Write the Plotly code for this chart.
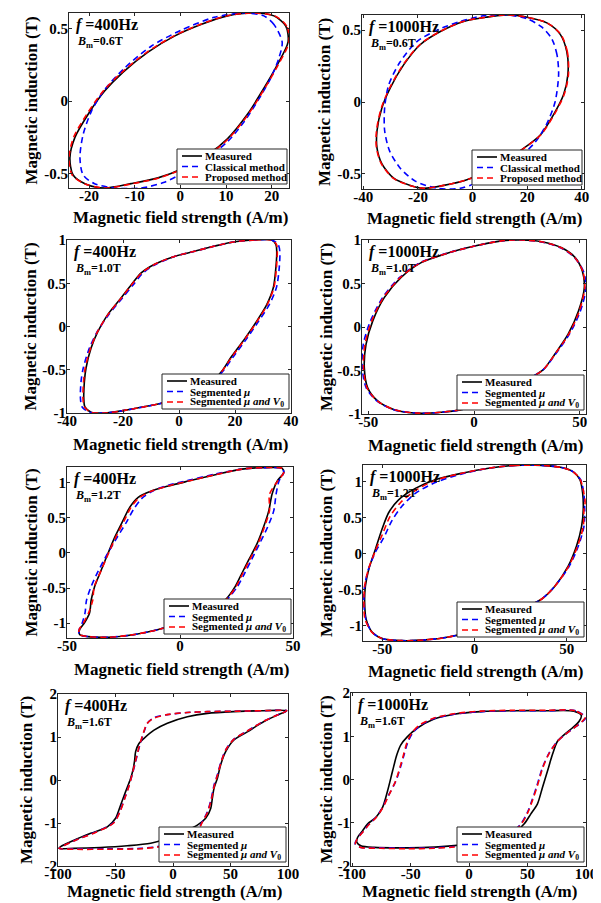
import plotly.graph_objects as go

FIG_W, FIG_H = 601, 903
FONT = "Liberation Serif"

# ---------------- Panel 1: f=400Hz, Bm=0.6T ----------------
p1_meas_H = [23.6, 23.1, 20.5, 16.1, 10.3, 4.5, -1.3, -7.1, -12.6, -16.6, -20.2, -23.1, -24.2, -23.5, -20.9, -16.6, -10.8, -4.9, 0.9, 6.0, 10.3, 14.7, 18.3, 21.2, 23.6]
p1_meas_B = [0.41, 0.52, 0.59, 0.61, 0.59, 0.53, 0.45, 0.34, 0.20, 0.07, -0.09, -0.25, -0.39, -0.51, -0.57, -0.60, -0.57, -0.53, -0.46, -0.37, -0.26, -0.09, 0.09, 0.25, 0.41]
p1_m1_H = [22.3, 20.5, 18.3, 14.0, 7.4, 0.1, -6.4, -12.2, -16.6, -19.5, -21.3, -22.0, -21.3, -18.8, -14.4, -8.6, -3.5, 0.9, 6.0, 10.3, 14.0, 16.9, 19.8, 21.6, 22.3]
p1_m1_B = [0.41, 0.53, 0.59, 0.61, 0.58, 0.49, 0.38, 0.23, 0.08, -0.07, -0.23, -0.39, -0.51, -0.57, -0.60, -0.60, -0.56, -0.49, -0.39, -0.28, -0.14, 0.0, 0.16, 0.30, 0.41]
p1_m2_H = [23.8, 23.3, 20.7, 16.0, 10.1, 4.3, -1.5, -7.3, -12.8, -16.9, -20.5, -23.4, -24.4, -23.7, -21.0, -16.4, -10.5, -4.6, 1.1, 6.2, 10.5, 14.9, 18.5, 21.4, 23.8]
p1_m2_B = [0.41, 0.52, 0.59, 0.61, 0.59, 0.53, 0.45, 0.34, 0.20, 0.07, -0.09, -0.25, -0.39, -0.51, -0.57, -0.60, -0.57, -0.53, -0.46, -0.37, -0.26, -0.09, 0.09, 0.25, 0.41]

# ---------------- Panel 2: f=1000Hz, Bm=0.6T ----------------
p2_meas_H = [34.9, 34.5, 32.1, 27.2, 19.9, 12.6, 5.2, -3.3, -11.8, -19.1, -25.2, -30.1, -33.2, -35.0, -35.0, -33.2, -28.9, -22.8, -17.9, -10.6, -2.1, 7.7, 17.4, 24.8, 29.6, 33.3, 34.9]
p2_meas_B = [0.19, 0.35, 0.47, 0.55, 0.59, 0.605, 0.59, 0.56, 0.49, 0.40, 0.26, 0.10, -0.04, -0.20, -0.32, -0.43, -0.53, -0.58, -0.60, -0.58, -0.54, -0.46, -0.34, -0.23, -0.09, 0.05, 0.19]
p2_m1_H = [31.5, 30.9, 29.0, 25.4, 19.9, 12.6, 4.0, -4.5, -13.0, -20.4, -26.5, -30.7, -32.2, -32.2, -30.4, -26.5, -21.0, -13.0, -4.5, 1.6, 8.9, 16.2, 22.9, 27.2, 30.2, 31.5]
p2_m1_B = [0.19, 0.33, 0.44, 0.52, 0.58, 0.605, 0.60, 0.56, 0.50, 0.42, 0.28, 0.12, -0.04, -0.20, -0.34, -0.46, -0.55, -0.60, -0.60, -0.56, -0.49, -0.40, -0.28, -0.15, 0.0, 0.19]
p2_m2_H = [35.1, 34.7, 32.3, 27.3, 19.9, 12.5, 5.0, -3.5, -12.0, -19.3, -25.4, -30.3, -33.4, -35.2, -35.2, -33.4, -29.1, -23.0, -18.0, -10.5, -2.0, 7.8, 17.5, 24.9, 29.8, 33.5, 35.1]
p2_m2_B = [0.19, 0.35, 0.47, 0.55, 0.59, 0.605, 0.59, 0.56, 0.49, 0.40, 0.26, 0.10, -0.04, -0.20, -0.32, -0.43, -0.53, -0.58, -0.60, -0.58, -0.54, -0.46, -0.34, -0.23, -0.09, 0.05, 0.19]

# ---------------- Panel 3: f=400Hz, Bm=1.0T ----------------
p3_meas_H = [33.1, 27.1, 19.9, 12.8, 5.6, -1.6, -8.7, -13.5, -17.1, -20.7, -25.4, -29.0, -31.4, -33.2, -33.8, -34.0, -33.6, -31.4, -26.6, -19.5, -11.1, -3.9, 3.2, 10.4, 15.2, 18.7, 23.5, 27.7, 31.3, 33.7, 34.6, 34.9, 34.6, 33.1]
p3_meas_B = [1.00, 1.00, 0.98, 0.93, 0.87, 0.81, 0.72, 0.62, 0.48, 0.33, 0.14, -0.06, -0.25, -0.48, -0.64, -0.83, -0.93, -0.99, -1.00, -0.97, -0.92, -0.87, -0.80, -0.68, -0.52, -0.35, -0.14, 0.06, 0.25, 0.45, 0.68, 0.87, 0.95, 1.00]
p3_m1_H = [33.1, 27.1, 19.9, 12.8, 5.6, -1.6, -8.2, -12.8, -16.4, -20.2, -25.0, -29.2, -32.0, -34.2, -35.0, -35.2, -34.6, -32.0, -26.6, -19.5, -11.1, -3.9, 3.2, 10.4, 15.6, 19.4, 24.2, 28.4, 32.2, 34.8, 35.8, 36.0, 35.4, 33.1]
p3_m1_B = [1.00, 1.00, 0.98, 0.93, 0.87, 0.81, 0.72, 0.62, 0.48, 0.33, 0.14, -0.06, -0.25, -0.48, -0.64, -0.83, -0.93, -0.99, -1.00, -0.97, -0.92, -0.87, -0.80, -0.68, -0.52, -0.35, -0.14, 0.06, 0.25, 0.45, 0.68, 0.87, 0.95, 1.00]
p3_m2_H = [33.1, 27.1, 19.9, 12.8, 5.6, -1.6, -8.6, -13.3, -17.0, -20.6, -25.3, -29.1, -31.6, -33.5, -34.1, -34.3, -33.8, -31.5, -26.6, -19.5, -11.1, -3.9, 3.2, 10.4, 15.3, 18.9, 23.7, 27.9, 31.5, 33.9, 34.8, 35.1, 34.8, 33.1]
p3_m2_B = [1.00, 1.00, 0.98, 0.93, 0.87, 0.81, 0.72, 0.62, 0.48, 0.33, 0.14, -0.06, -0.25, -0.48, -0.64, -0.83, -0.93, -0.99, -1.00, -0.97, -0.92, -0.87, -0.80, -0.68, -0.52, -0.35, -0.14, 0.06, 0.25, 0.45, 0.68, 0.87, 0.95, 1.00]

# ---------------- Panel 4: f=1000Hz, Bm=1.0T ----------------
p4_meas_H = [52.2, 51.3, 47.8, 41.5, 32.0, 22.5, 13.0, 0.3, -12.3, -25.0, -34.5, -42.4, -47.9, -51.1, -51.9, -50.3, -45.6, -37.7, -26.6, -15.5, -6.0, 5.1, 16.1, 25.6, 32.8, 38.3, 44.6, 49.4, 52.2]
p4_meas_B = [0.45, 0.64, 0.80, 0.91, 0.98, 1.00, 0.99, 0.93, 0.85, 0.74, 0.57, 0.34, 0.07, -0.20, -0.47, -0.70, -0.85, -0.95, -0.99, -0.98, -0.95, -0.87, -0.74, -0.60, -0.49, -0.31, -0.08, 0.18, 0.45]
p4_m1_H = [53.0, 51.8, 47.5, 41.0, 31.5, 22.5, 13.0, 0.3, -12.5, -25.5, -35.2, -43.2, -49.0, -52.4, -52.9, -51.0, -46.0, -38.0, -26.6, -15.5, -6.0, 5.1, 16.1, 25.6, 32.8, 38.6, 45.2, 50.3, 53.0]
p4_m1_B = [0.45, 0.64, 0.80, 0.91, 0.98, 1.00, 0.99, 0.93, 0.85, 0.74, 0.57, 0.34, 0.07, -0.20, -0.47, -0.70, -0.85, -0.95, -0.99, -0.98, -0.95, -0.87, -0.74, -0.60, -0.49, -0.31, -0.08, 0.18, 0.45]
p4_m2_H = [52.4, 51.5, 47.6, 41.3, 31.8, 22.5, 13.0, 0.3, -12.4, -25.2, -34.8, -42.8, -48.4, -51.6, -52.3, -50.6, -45.8, -37.8, -26.6, -15.5, -6.0, 5.1, 16.1, 25.6, 32.8, 38.4, 44.9, 49.8, 52.4]
p4_m2_B = [0.45, 0.64, 0.80, 0.91, 0.98, 1.00, 0.99, 0.93, 0.85, 0.74, 0.57, 0.34, 0.07, -0.20, -0.47, -0.70, -0.85, -0.95, -0.99, -0.98, -0.95, -0.87, -0.74, -0.60, -0.49, -0.31, -0.08, 0.18, 0.45]

# ---------------- Panel 5: f=400Hz, Bm=1.2T ----------------
p5_meas_H = [45.2, 36.3, 27.4, 15.6, 3.7, -5.2, -12.6, -18.5, -22.2, -25.2, -28.9, -31.9, -34.8, -37.8, -39.3, -40.0, -42.2, -44.4, -44.4, -40.7, -31.9, -20.0, -9.6, 2.2, 12.6, 20.0, 24.4, 27.4, 30.4, 34.1, 37.0, 39.3, 40.7, 43.0, 45.9, 45.2]
p5_meas_B = [1.20, 1.21, 1.19, 1.11, 1.02, 0.95, 0.88, 0.79, 0.65, 0.46, 0.22, -0.01, -0.24, -0.48, -0.67, -0.85, -0.99, -1.09, -1.16, -1.19, -1.20, -1.16, -1.09, -0.97, -0.83, -0.67, -0.48, -0.29, -0.10, 0.13, 0.37, 0.60, 0.83, 1.02, 1.14, 1.20]
p5_m1_H = [45.2, 36.3, 27.4, 15.6, 3.7, -5.2, -12.0, -17.0, -20.5, -23.8, -28.2, -32.4, -36.2, -39.6, -41.4, -42.0, -43.2, -44.6, -44.5, -40.7, -31.9, -20.0, -9.6, 2.2, 12.6, 20.5, 25.4, 28.6, 31.6, 35.2, 38.8, 41.5, 42.5, 43.8, 45.9, 45.2]
p5_m1_B = [1.20, 1.21, 1.19, 1.12, 1.03, 0.96, 0.88, 0.77, 0.62, 0.43, 0.20, -0.03, -0.26, -0.50, -0.68, -0.85, -0.99, -1.09, -1.16, -1.19, -1.20, -1.16, -1.09, -0.97, -0.83, -0.67, -0.48, -0.29, -0.10, 0.13, 0.37, 0.60, 0.83, 1.02, 1.14, 1.20]
p5_m2_H = [45.2, 36.3, 27.4, 15.6, 3.7, -5.2, -12.4, -18.2, -21.8, -24.8, -28.6, -31.8, -34.9, -38.0, -38.6, -40.4, -42.6, -44.6, -44.6, -40.7, -31.9, -20.0, -9.6, 2.2, 12.6, 20.2, 24.8, 27.8, 30.8, 34.5, 37.4, 39.6, 39.6, 43.2, 45.9, 45.2]
p5_m2_B = [1.20, 1.21, 1.19, 1.11, 1.02, 0.95, 0.88, 0.78, 0.64, 0.45, 0.21, -0.02, -0.25, -0.49, -0.67, -0.85, -0.99, -1.09, -1.16, -1.19, -1.20, -1.16, -1.09, -0.97, -0.83, -0.67, -0.48, -0.29, -0.10, 0.13, 0.37, 0.60, 0.83, 1.02, 1.14, 1.20]

# ---------------- Panel 6: f=1000Hz, Bm=1.2T ----------------
p6_meas_H = [36.5, 22.0, 7.6, -6.9, -21.3, -32.1, -41.2, -46.6, -50.2, -53.8, -57.4, -59.2, -59.6, -58.8, -55.6, -50.2, -39.4, -26.7, -14.1, -3.2, 11.2, 25.6, 36.5, 43.7, 50.9, 55.4, 58.1, 59.0, 58.7, 57.2, 53.6, 47.3, 36.5]
p6_meas_B = [1.23, 1.23, 1.19, 1.12, 1.03, 0.91, 0.75, 0.57, 0.34, 0.06, -0.22, -0.45, -0.68, -0.91, -1.09, -1.18, -1.21, -1.20, -1.16, -1.09, -0.95, -0.77, -0.63, -0.45, -0.17, 0.11, 0.38, 0.61, 0.84, 1.03, 1.14, 1.20, 1.23]
p6_m1_H = [36.5, 22.0, 7.6, -6.9, -21.3, -32.1, -39.4, -44.8, -49.3, -53.8, -57.6, -59.6, -60.0, -59.0, -55.6, -50.2, -39.4, -26.7, -14.1, -3.2, 11.2, 25.6, 36.5, 43.7, 51.5, 56.4, 59.4, 59.8, 59.3, 57.6, 53.6, 47.3, 36.5]
p6_m1_B = [1.23, 1.23, 1.19, 1.11, 0.99, 0.84, 0.66, 0.46, 0.22, 0.02, -0.22, -0.45, -0.68, -0.91, -1.09, -1.18, -1.21, -1.20, -1.16, -1.09, -0.95, -0.77, -0.63, -0.45, -0.17, 0.11, 0.38, 0.61, 0.84, 1.03, 1.14, 1.20, 1.23]
p6_m2_H = [36.5, 22.0, 7.6, -6.9, -21.3, -32.1, -40.2, -45.8, -49.8, -53.8, -57.6, -59.6, -60.0, -59.4, -55.8, -50.2, -39.4, -26.7, -14.1, -3.2, 11.2, 25.6, 36.5, 43.7, 51.2, 56.0, 59.0, 59.4, 60.0, 57.4, 53.6, 47.3, 36.5]
p6_m2_B = [1.23, 1.23, 1.19, 1.12, 1.02, 0.88, 0.71, 0.52, 0.28, 0.04, -0.22, -0.45, -0.68, -0.91, -1.09, -1.18, -1.21, -1.20, -1.16, -1.09, -0.95, -0.77, -0.63, -0.45, -0.17, 0.11, 0.38, 0.61, 0.72, 1.03, 1.14, 1.20, 1.23]

# ---------------- Panel 7: f=400Hz, Bm=1.6T ----------------
p7_meas_H = [98.8, 76.2, 53.0, 29.9, 12.5, -4.9, -16.5, -25.2, -29.6, -32.5, -33.3, -34.5, -36.8, -41.2, -45.5, -49.9, -57.1, -71.6, -86.1, -97.7, -99.1, -86.1, -62.9, -39.7, -19.4, -4.9, 9.6, 21.2, 28.4, 32.8, 34.2, 35.7, 38.6, 41.4, 45.8, 53.0, 64.6, 79.1, 90.7, 98.8]
p7_meas_B = [1.61, 1.61, 1.59, 1.55, 1.47, 1.32, 1.16, 0.97, 0.85, 0.66, 0.47, 0.27, 0.04, -0.27, -0.58, -0.89, -1.09, -1.24, -1.40, -1.55, -1.59, -1.59, -1.57, -1.53, -1.47, -1.36, -1.20, -1.05, -0.89, -0.66, -0.43, -0.19, 0.04, 0.35, 0.66, 0.93, 1.12, 1.36, 1.51, 1.61]
p7_m1_H = [98.8, 76.2, 53.0, 29.9, 12.5, -4.9, -16.5, -22.3, -25.2, -28.0, -29.6, -32.5, -35.5, -38.5, -42.0, -46.0, -52.0, -68.0, -85.0, -97.5, -99.1, -86.1, -57.1, -28.1, -13.6, 2.0, 18.3, 25.5, 29.9, 33.3, 35.7, 38.6, 41.4, 45.8, 53.0, 64.6, 79.1, 90.7, 98.8]
p7_m1_B = [1.61, 1.61, 1.60, 1.59, 1.57, 1.52, 1.45, 1.32, 1.12, 0.89, 0.74, 0.43, 0.12, -0.15, -0.42, -0.72, -1.00, -1.22, -1.40, -1.56, -1.59, -1.60, -1.60, -1.59, -1.55, -1.47, -1.28, -0.97, -0.74, -0.43, -0.12, 0.12, 0.39, 0.70, 0.95, 1.14, 1.37, 1.51, 1.61]
p7_m2_H = [98.8, 76.2, 53.0, 29.9, 12.5, -4.9, -16.5, -22.6, -25.6, -28.3, -29.9, -32.7, -35.6, -38.4, -41.8, -45.8, -51.6, -67.5, -84.6, -97.4, -99.1, -86.1, -57.1, -28.1, -13.6, 2.0, 18.3, 25.8, 30.2, 33.6, 36.0, 38.8, 41.6, 45.9, 53.0, 64.6, 79.1, 90.7, 98.8]
p7_m2_B = [1.61, 1.61, 1.60, 1.59, 1.57, 1.52, 1.44, 1.31, 1.11, 0.88, 0.73, 0.43, 0.12, -0.15, -0.42, -0.72, -1.00, -1.22, -1.40, -1.56, -1.59, -1.61, -1.61, -1.60, -1.56, -1.48, -1.29, -0.97, -0.74, -0.43, -0.12, 0.12, 0.39, 0.70, 0.95, 1.14, 1.37, 1.51, 1.61]

# ---------------- Panel 8: f=1000Hz, Bm=1.6T ----------------
p8_meas_H = [96.0, 89.7, 67.0, 38.5, 10.0, -12.8, -29.9, -44.2, -52.7, -58.4, -61.8, -65.5, -69.8, -74.1, -79.8, -86.9, -91.2, -95.4, -96.0, -92.6, -81.2, -58.4, -35.6, -12.8, 10.0, 32.8, 47.0, 52.7, 58.4, 62.7, 67.0, 71.2, 75.5, 81.2, 88.3, 94.0, 96.0]
p8_meas_B = [1.48, 1.58, 1.59, 1.59, 1.57, 1.51, 1.40, 1.19, 0.99, 0.80, 0.57, 0.19, -0.27, -0.65, -0.88, -1.03, -1.19, -1.34, -1.45, -1.53, -1.57, -1.58, -1.57, -1.53, -1.45, -1.34, -1.03, -0.80, -0.57, -0.19, 0.19, 0.57, 0.88, 1.03, 1.19, 1.34, 1.48]
p8_m1_H = [99.7, 91.2, 67.0, 38.5, 10.0, -12.8, -29.9, -41.3, -48.4, -52.7, -55.6, -58.4, -62.7, -68.4, -74.1, -79.8, -85.5, -91.2, -96.0, -97.4, -92.6, -75.5, -52.7, -29.9, -12.8, 10.0, 32.8, 44.2, 49.9, 54.1, 58.4, 62.7, 68.4, 75.5, 82.6, 89.7, 96.9, 99.7]
p8_m1_B = [1.43, 1.59, 1.59, 1.59, 1.57, 1.51, 1.41, 1.26, 1.07, 0.84, 0.57, 0.31, -0.04, -0.34, -0.65, -0.88, -1.03, -1.22, -1.38, -1.49, -1.57, -1.58, -1.59, -1.58, -1.55, -1.48, -1.30, -1.03, -0.76, -0.46, -0.11, 0.27, 0.61, 0.88, 1.05, 1.19, 1.34, 1.43]
p8_m2_H = [99.2, 90.8, 67.0, 38.5, 10.0, -12.8, -29.9, -41.8, -48.9, -53.2, -56.0, -58.8, -62.9, -68.2, -73.8, -79.5, -85.2, -91.0, -95.8, -97.2, -92.6, -75.5, -52.7, -29.9, -12.8, 10.0, 32.8, 44.6, 50.3, 54.5, 58.8, 63.0, 68.6, 75.6, 82.6, 89.7, 96.6, 99.2]
p8_m2_B = [1.44, 1.59, 1.60, 1.60, 1.58, 1.52, 1.42, 1.27, 1.08, 0.85, 0.58, 0.31, -0.04, -0.34, -0.65, -0.88, -1.03, -1.22, -1.38, -1.49, -1.57, -1.59, -1.60, -1.59, -1.56, -1.49, -1.31, -1.03, -0.76, -0.46, -0.11, 0.27, 0.61, 0.88, 1.05, 1.19, 1.34, 1.44]

# ---------------- Axis ranges and tick labels ----------------
x_ranges = [[-24.4, 23.8], [-40.5, 40.8], [-40, 40], [-53, 53], [-50, 50], [-60.5, 60.5], [-100, 100], [-101, 100]]
y_ranges = [[-0.6, 0.61], [-0.605, 0.605], [-1, 1], [-1, 1], [-1.21, 1.22], [-1.215, 1.235], [-2, 2], [-2, 2]]
x_tickvals = [[-20, -10, 0, 10, 20], [-40, -20, 0, 20, 40], [-40, -20, 0, 20, 40], [-50, 0, 50],
              [-50, 0, 50], [-50, 0, 50], [-100, -50, 0, 50, 100], [-100, -50, 0, 50, 100]]
x_ticktext = [["-20", "-10", "0", "10", "20"], ["-40", "-20", "0", "20", "40"], ["-40", "-20", "0", "20", "40"], ["-50", "0", "50"],
              ["-50", "0", "50"], ["-50", "0", "50"], ["-100", "-50", "0", "50", "100"], ["-100", "-50", "0", "50", "100"]]
y_tickvals = [[-0.5, 0, 0.5], [-0.5, 0, 0.5], [-1, -0.5, 0, 0.5, 1], [-1, -0.5, 0, 0.5, 1],
              [-1, -0.5, 0, 0.5, 1], [-1, -0.5, 0, 0.5, 1], [-2, -1, 0, 1, 2], [-2, -1, 0, 1, 2]]
y_ticktext = [["-0.5", "0", "0.5"], ["-0.5", "0", "0.5"], ["-1", "-0.5", "0", "0.5", "1"], ["-1", "-0.5", "0", "0.5", "1"],
              ["-1", "-0.5", "0", "0.5", "1"], ["-1", "-0.5", "0", "0.5", "1"], ["-2", "-1", "0", "1", "2"], ["-2", "-1", "0", "1", "2"]]

x_title = "Magnetic field strength (A/m)"
y_title = "Magnetic induction (T)"
freq_labels = ["400", "1000", "400", "1000", "400", "1000", "400", "1000"]
bm_labels = ["0.6", "0.6", "1.0", "1.0", "1.2", "1.2", "1.6", "1.6"]
names_row1 = ["Measured", "Classical method", "Proposed method"]
names_rest = ["Measured", "Segmented <i>μ</i>", "Segmented <i>μ and V</i><sub>0</sub>"]

curves = [
    [(p1_meas_H, p1_meas_B), (p1_m1_H, p1_m1_B), (p1_m2_H, p1_m2_B)],
    [(p2_meas_H, p2_meas_B), (p2_m1_H, p2_m1_B), (p2_m2_H, p2_m2_B)],
    [(p3_meas_H, p3_meas_B), (p3_m1_H, p3_m1_B), (p3_m2_H, p3_m2_B)],
    [(p4_meas_H, p4_meas_B), (p4_m1_H, p4_m1_B), (p4_m2_H, p4_m2_B)],
    [(p5_meas_H, p5_meas_B), (p5_m1_H, p5_m1_B), (p5_m2_H, p5_m2_B)],
    [(p6_meas_H, p6_meas_B), (p6_m1_H, p6_m1_B), (p6_m2_H, p6_m2_B)],
    [(p7_meas_H, p7_meas_B), (p7_m1_H, p7_m1_B), (p7_m2_H, p7_m2_B)],
    [(p8_meas_H, p8_meas_B), (p8_m1_H, p8_m1_B), (p8_m2_H, p8_m2_B)],
]

# ---------------- Layout (pixel positions of plot frames) ----------------
panel_px = [  # left, right, top, bottom
    (61, 281, 5, 180),
    (354, 576, 7, 181),
    (59, 283, 232, 405),
    (354, 578, 232, 406),
    (59, 285, 459, 630),
    (355, 578, 457, 633),
    (50, 280, 686, 858),
    (343, 578, 685, 858),
]
x_title_gap = [30, 30, 31, 31, 31, 30, 25, 25]      # px from frame bottom to x-title centre
y_title_cx = [23, 317, 22, 318, 23, 318, 18, 318]    # px centre of y-title

styles = [
    dict(color="black", width=1.6, dash="solid"),
    dict(color="#0000FF", width=1.6, dash="6px,4px"),
    dict(color="#FF0000", width=1.6, dash="6px,4px"),
]


def pxx(px):
    return px / FIG_W


def pxy(py):
    return 1 - py / FIG_H


fig = go.Figure()
shapes = []
annotations = []
tick_font = dict(family=FONT, size=15, color="black", weight="bold")
title_font = dict(family=FONT, size=17, color="black", weight="bold")
axis_common = dict(showline=True, linecolor="#262626", linewidth=1, mirror="ticks",
                   ticks="inside", ticklen=3, tickwidth=1, tickcolor="#262626",
                   showgrid=False, zeroline=False, tickfont=tick_font, automargin=False)

for i in range(8):
    n = i + 1
    sfx = "" if n == 1 else str(n)
    L, R, T, B = panel_px[i]
    names = names_row1 if i < 2 else names_rest
    for (hh, bb), st, nm in zip(curves[i], styles, names):
        fig.add_trace(go.Scatter(
            x=hh, y=bb, mode="lines", name=nm, showlegend=False,
            line=dict(color=st["color"], width=st["width"], dash=st["dash"], shape="spline", smoothing=0.8),
            xaxis="x" + sfx, yaxis="y" + sfx))
    fig.update_layout({
        "xaxis" + sfx: dict(axis_common, domain=[pxx(L), pxx(R)], anchor="y" + sfx,
                            range=x_ranges[i], tickvals=x_tickvals[i], ticktext=x_ticktext[i],
                            ticklabelstandoff=-6),
        "yaxis" + sfx: dict(axis_common, domain=[pxy(B), pxy(T)], anchor="x" + sfx,
                            range=y_ranges[i], tickvals=y_tickvals[i], ticktext=y_ticktext[i],
                            ticklabelstandoff=-3),
    })
    # axis titles
    annotations.append(dict(text=x_title, x=pxx((L + R) / 2 + 1), y=pxy(B + x_title_gap[i]),
                            xref="paper", yref="paper", xanchor="center", yanchor="middle",
                            showarrow=False, font=title_font))
    annotations.append(dict(text=y_title, x=pxx(y_title_cx[i]), y=pxy((T + B) / 2),
                            xref="paper", yref="paper", xanchor="center", yanchor="middle",
                            textangle=-90, showarrow=False, font=title_font))
    # frequency / flux labels
    annotations.append(dict(text="<i>f</i> =" + freq_labels[i] + "Hz", x=pxx(L + 5), y=pxy(T + 12),
                            xref="paper", yref="paper", xanchor="left", yanchor="middle", showarrow=False,
                            font=dict(family=FONT, size=16, color="black", weight="bold")))
    annotations.append(dict(text="<i>B</i><sub>m</sub>=" + bm_labels[i] + "T", x=pxx(L + 6), y=pxy(T + 29),
                            xref="paper", yref="paper", xanchor="left", yanchor="middle", showarrow=False,
                            font=dict(family=FONT, size=12, color="black", weight="bold")))
    # legend box
    bw = 110 if i < 2 else 127
    bh = 35
    bx1 = R - 2
    bx0 = bx1 - bw
    by1 = B - 4
    by0 = by1 - bh
    shapes.append(dict(type="rect", xref="paper", yref="paper", x0=pxx(bx0), x1=pxx(bx1),
                       y0=pxy(by1), y1=pxy(by0), line=dict(color="#262626", width=1),
                       fillcolor="white", layer="above"))
    for k, (st, nm) in enumerate(zip(styles, names)):
        yy = by0 + 7 + 10.5 * k
        shapes.append(dict(type="line", xref="paper", yref="paper", x0=pxx(bx0 + 5), x1=pxx(bx0 + 25),
                           y0=pxy(yy), y1=pxy(yy), layer="above",
                           line=dict(color=st["color"], width=1.6, dash=st["dash"])))
        annotations.append(dict(text=nm, x=pxx(bx0 + 26), y=pxy(yy), xref="paper", yref="paper",
                                xanchor="left", yanchor="middle", showarrow=False,
                                font=dict(family=FONT, size=11, color="black", weight="bold")))

fig.update_layout(width=FIG_W, height=FIG_H, margin=dict(l=0, r=0, t=0, b=0),
                  paper_bgcolor="white", plot_bgcolor="white", showlegend=False,
                  shapes=shapes, annotations=annotations)

fig.write_html("out.html")
